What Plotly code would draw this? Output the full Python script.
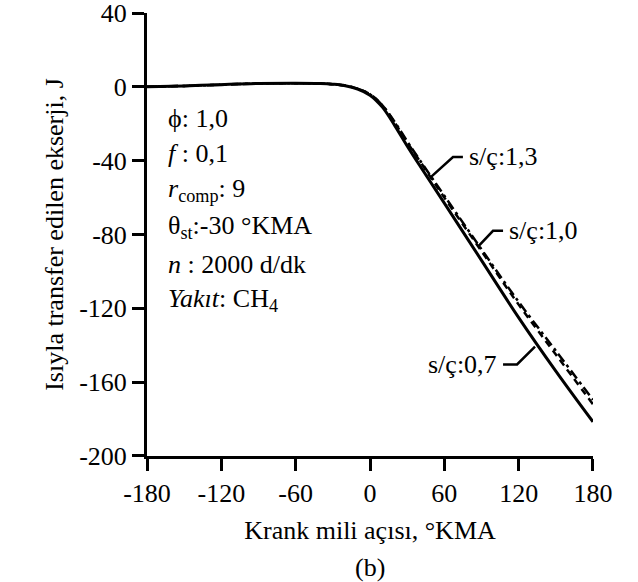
import plotly.graph_objects as go

# Crank angle (°KMA)
angle = [-180, -150, -120, -90, -60, -40, -30, -20, -10, 0, 10, 20, 30, 40, 60, 90, 120, 150, 180]
# Exergy transferred by heat (J) for each stroke/bore ratio
sc_07 = [0, 0.5, 1.2, 1.8, 2.0, 1.8, 1.4, 0.6, -1.2, -4.5, -11, -21, -32, -42.5, -63, -94, -125, -154, -181.5]
sc_10 = [0, 0.5, 1.2, 1.8, 2.0, 1.8, 1.4, 0.6, -1.0, -4.0, -10, -19.5, -30, -40, -60, -89, -118, -145, -172]
sc_13 = [0, 0.5, 1.2, 1.8, 2.0, 1.8, 1.4, 0.6, -1.0, -4.0, -10, -19, -29.5, -39.5, -59, -88, -116.5, -143, -169.5]

x_ticks = [-180, -120, -60, 0, 60, 120, 180]
y_ticks = [-200, -160, -120, -80, -40, 0, 40]

FONT = "Liberation Serif, Times New Roman, serif"
FS = 26

fig = go.Figure()
fig.add_trace(go.Scatter(x=angle, y=sc_13, mode="lines", line=dict(color="black", width=2.5, dash="10px,4px,3px,4px"), name="s/ç:1,3", line_shape="spline"))
fig.add_trace(go.Scatter(x=angle, y=sc_10, mode="lines", line=dict(color="black", width=2.5, dash="7px,5px"), name="s/ç:1,0", line_shape="spline"))
fig.add_trace(go.Scatter(x=angle, y=sc_07, mode="lines", line=dict(color="black", width=3), name="s/ç:0,7", line_shape="spline"))

axis_common = dict(showline=True, linecolor="black", linewidth=3, ticks="outside", ticklen=12,
                   tickwidth=3, tickcolor="black", showgrid=False, zeroline=False,
                   ticklabeloverflow="allow", automargin=False,
                   tickfont=dict(family=FONT, size=FS, color="black"))

fig.update_layout(
    width=638, height=582,
    margin=dict(l=147, r=45, t=13, b=126),
    paper_bgcolor="white", plot_bgcolor="white",
    showlegend=False,
    font=dict(family=FONT, size=FS, color="black"),
    xaxis=dict(range=[-180.01, 180.01], tickvals=x_ticks, ticktext=[str(v) for v in x_ticks],
               title=dict(text="Krank mili açısı, °KMA", font=dict(family=FONT, size=FS), standoff=14),
               **axis_common),
    yaxis=dict(range=[-200.01, 40.01], tickvals=y_ticks, ticktext=[str(v) for v in y_ticks],
               title=dict(text="Isıyla transfer edilen ekserji, J", font=dict(family=FONT, size=FS), standoff=9),
               **axis_common),
)

# Parameter text block
params = ["ϕ: 1,0", "<i>f</i> : 0,1", "<i>r</i><sub>comp</sub>: 9", "θ<sub>st</sub>:-30 °KMA",
          "<i>n</i> : 2000 d/dk", "<i>Yakıt</i>: CH<sub>4</sub>"]
param_y = [118, 154, 190, 227, 264, 300]  # pixel rows
for txt, py in zip(params, param_y):
    fig.add_annotation(text=txt, xref="paper", yref="paper", x=(166 - 147) / 446, y=1 - (py - 13) / 443,
                       xanchor="left", yanchor="middle", showarrow=False,
                       font=dict(family=FONT, size=FS, color="black"))

# Curve labels with leader lines
labels = [
    ("s/ç:1,3", [(48.4, -49.3), (67, -38), (75, -38)], 78, -38, "left"),
    ("s/ç:1,0", [(87.2, -86.6), (99.3, -78), (107.4, -78)], 110.5, -78, "left"),
    ("s/ç:0,7", [(133.2, -140.7), (118.7, -150.4), (107.4, -150.4)], 104.5, -150.4, "right"),
]
for txt, pts, tx, ty, anchor in labels:
    path = "M " + " L ".join(f"{px},{py}" for px, py in pts)
    fig.add_shape(type="path", path=path, xref="x", yref="y", line=dict(color="black", width=2.5))
    fig.add_annotation(text=txt, x=tx, y=ty, xref="x", yref="y", xanchor=anchor, yanchor="middle",
                       showarrow=False, font=dict(family=FONT, size=FS, color="black"))

fig.add_annotation(text="(b)", xref="paper", yref="paper", x=0.5, y=-(567 - 456) / 443,
                   xanchor="center", yanchor="middle", showarrow=False,
                   font=dict(family=FONT, size=FS, color="black"))

fig.write_html("out.html")
